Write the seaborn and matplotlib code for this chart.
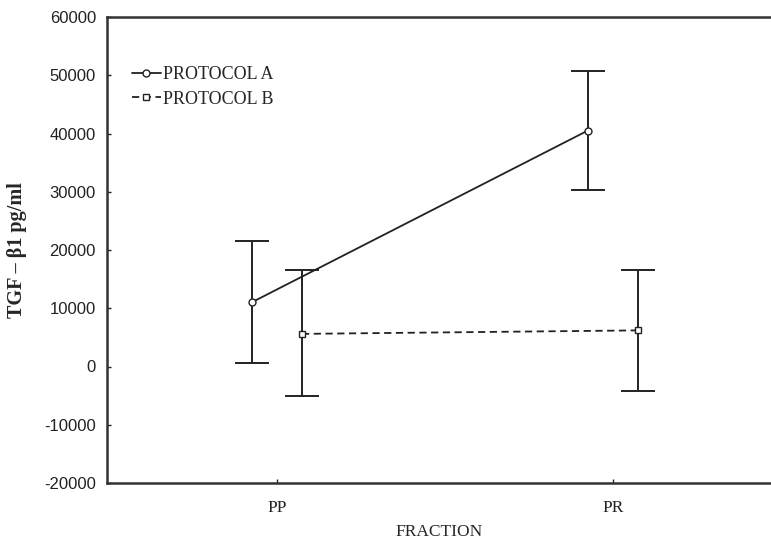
import pandas as pd
import seaborn as sns
import matplotlib.pyplot as plt

fractions = ["PP", "PR"]
protocols = ["PROTOCOL A", "PROTOCOL B"]
mean_a = [11000, 40500]
low_a = [600, 30300]
high_a = [21500, 50800]
mean_b = [5600, 6200]
low_b = [-5000, -4150]
high_b = [16600, 16500]

rows = []
for p, means, lows, highs in [(protocols[0], mean_a, low_a, high_a),
                              (protocols[1], mean_b, low_b, high_b)]:
    for i, f in enumerate(fractions):
        rows.append({"protocol": p, "fraction": f, "idx": i,
                     "mean": means[i], "low": lows[i], "high": highs[i]})
df = pd.DataFrame(rows)
shift = {protocols[0]: -0.075, protocols[1]: 0.075}
df["xpos"] = df["idx"] + df["protocol"].map(shift)

sns.set_style("white")
plt.rcParams["font.family"] = ["Liberation Serif", "DejaVu Serif"]
plt.rcParams["axes.unicode_minus"] = False

fig = plt.figure(figsize=(7.71, 5.45), dpi=100)
ax = fig.add_axes([107 / 771, 62 / 545, 664 / 771, 466 / 545])

ink = "#222222"
for p in protocols:
    sub = df[df["protocol"] == p]
    ax.errorbar(sub["xpos"], sub["mean"],
                yerr=[sub["mean"] - sub["low"], sub["high"] - sub["mean"]],
                fmt="none", ecolor=ink, elinewidth=1.4, capsize=12,
                capthick=1.4, zorder=2)

sns.lineplot(data=df, x="xpos", y="mean", style="protocol",
             markers={protocols[0]: "o", protocols[1]: "s"},
             dashes={protocols[0]: "", protocols[1]: (4, 2.5)},
             color=ink, linewidth=1.3, markersize=5,
             markerfacecolor="white", markeredgecolor=ink,
             markeredgewidth=1.0, ax=ax, zorder=3, legend=True)

ax.set_xlim(-0.505, 1.47)
ax.set_ylim(-20000, 60000)
ax.set_yticks(range(-20000, 60001, 10000))
ax.set_xticks([0, 1])
ax.set_xticklabels(fractions, fontsize=12.5)
for lab in ax.get_yticklabels():
    lab.set_family("Liberation Sans")
    lab.set_fontsize(12)
ax.tick_params(axis="y", left=True, direction="in", length=3, width=1,
               pad=8, colors=ink)
ax.tick_params(axis="x", bottom=True, direction="in", length=3, width=1,
               pad=12, colors=ink)

ax.set_xlabel("FRACTION", fontsize=12.5, labelpad=6)
ax.set_ylabel("TGF – β1 pg/ml", fontsize=14.5, fontweight="bold", labelpad=12)

for side in ["left", "bottom", "top"]:
    ax.spines[side].set_color("#333333")
    ax.spines[side].set_linewidth(1.8)
ax.spines["right"].set_visible(False)

handles, labels = ax.get_legend_handles_labels()
ax.legend(handles, labels, loc="upper left", frameon=False,
          bbox_to_anchor=(132 / 771, 1 - 66 / 545),
          bbox_transform=fig.transFigure, fontsize=13,
          handlelength=1.6, handletextpad=0.12, labelspacing=0.42,
          borderpad=0, borderaxespad=0)

fig.savefig("out.png", dpi=100)
